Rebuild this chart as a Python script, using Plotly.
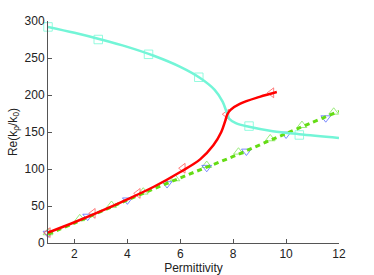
import plotly.graph_objects as go

# Curves (solid / dashed lines)
red_x = [1, 2, 3, 4, 5, 6, 6.75, 7.25, 7.55, 7.7, 7.78, 7.9, 8.25, 9.0, 9.65]
red_y = [14, 28, 43, 59, 76, 96, 113, 132, 150, 165, 174, 180, 188, 197.5, 204]

cyan_x = [1, 2, 3, 4, 5, 6, 6.75, 7.3, 7.6, 7.76, 7.85, 8.1, 8.6, 9.5, 10.5, 12]
cyan_y = [292, 284, 275, 265, 253, 238, 223, 207, 191, 176, 168, 162, 157, 151, 147, 142]

green_x = [1, 2, 4, 6, 8, 10, 12]
green_y = [12, 27, 58, 88, 117, 148, 178]

# Markers
red_mx = [1, 2.7, 4.4, 6.1, 7.75, 9.45]
red_my = [14, 40, 67, 101, 174, 203]

cyan_mx = [1, 2.9, 4.8, 6.7, 8.6, 10.5]
cyan_my = [292, 275, 255, 224, 158, 146]

blue_mx = [1, 2.5, 4, 5.5, 7, 8.5, 10, 11.5]
blue_my = [13, 36, 58, 80, 102, 124, 147, 169]

green_mx = [1, 2.2, 3.4, 4.6, 5.8, 7.0, 8.2, 9.4, 10.6, 11.8]
green_my = [14, 33, 51, 69, 87, 105, 123, 141, 159, 177]

x_ticks = [2, 4, 6, 8, 10, 12]
y_ticks = [0, 50, 100, 150, 200, 250, 300]

fig = go.Figure()

def markers(x, y, sym, col):
    fig.add_trace(go.Scatter(x=x, y=y, mode="markers", cliponaxis=False,
                             marker=dict(symbol=sym, size=8.5, color=col,
                                         line=dict(color=col, width=0.8)),
                             showlegend=False, hoverinfo="skip"))

markers(green_mx, green_my, "triangle-up-open", "rgb(130,230,90)")
markers(blue_mx, blue_my, "triangle-down-open", "rgb(90,110,255)")
markers(red_mx, red_my, "triangle-left-open", "rgb(255,90,90)")
markers(cyan_mx, cyan_my, "square-open", "rgb(120,250,215)")

fig.add_trace(go.Scatter(x=green_x, y=green_y, mode="lines", line_shape="spline",
                         line=dict(color="rgb(100,220,20)", width=3, dash="5px,4px"),
                         showlegend=False))
fig.add_trace(go.Scatter(x=cyan_x, y=cyan_y, mode="lines", line_shape="spline",
                         line=dict(color="rgb(115,245,215)", width=2.5),
                         showlegend=False))
fig.add_trace(go.Scatter(x=red_x, y=red_y, mode="lines", line_shape="spline",
                         line=dict(color="rgb(255,0,0)", width=2.5),
                         showlegend=False))

axis_common = dict(showgrid=False, zeroline=False, showline=True, linecolor="#555",
                   linewidth=1, ticks="inside", ticklen=4, tickcolor="#555",
                   tickfont=dict(size=12, color="#222"), mirror=False, automargin=False)

fig.update_xaxes(range=[1, 12], tickvals=x_ticks, ticktext=[str(v) for v in x_ticks],
                 title=dict(text="Permittivity", font=dict(size=12, color="#222"), standoff=2),
                 **axis_common)
fig.update_yaxes(range=[0, 300], tickvals=y_ticks, ticktext=[str(v) for v in y_ticks],
                 title=dict(text="Re(k<sub>ρ</sub>/k<sub>0</sub>)", font=dict(size=12, color="#222"),
                            standoff=4),
                 **axis_common)

fig.update_layout(width=374, height=275,
                  margin=dict(l=48, r=35, t=21, b=32),
                  paper_bgcolor="white", plot_bgcolor="white",
                  font=dict(family="Liberation Sans, Arial, sans-serif"))

fig.write_html("out.html", config={"displayModeBar": False},
               post_script="document.body.style.margin='0';document.body.style.padding='0';")
